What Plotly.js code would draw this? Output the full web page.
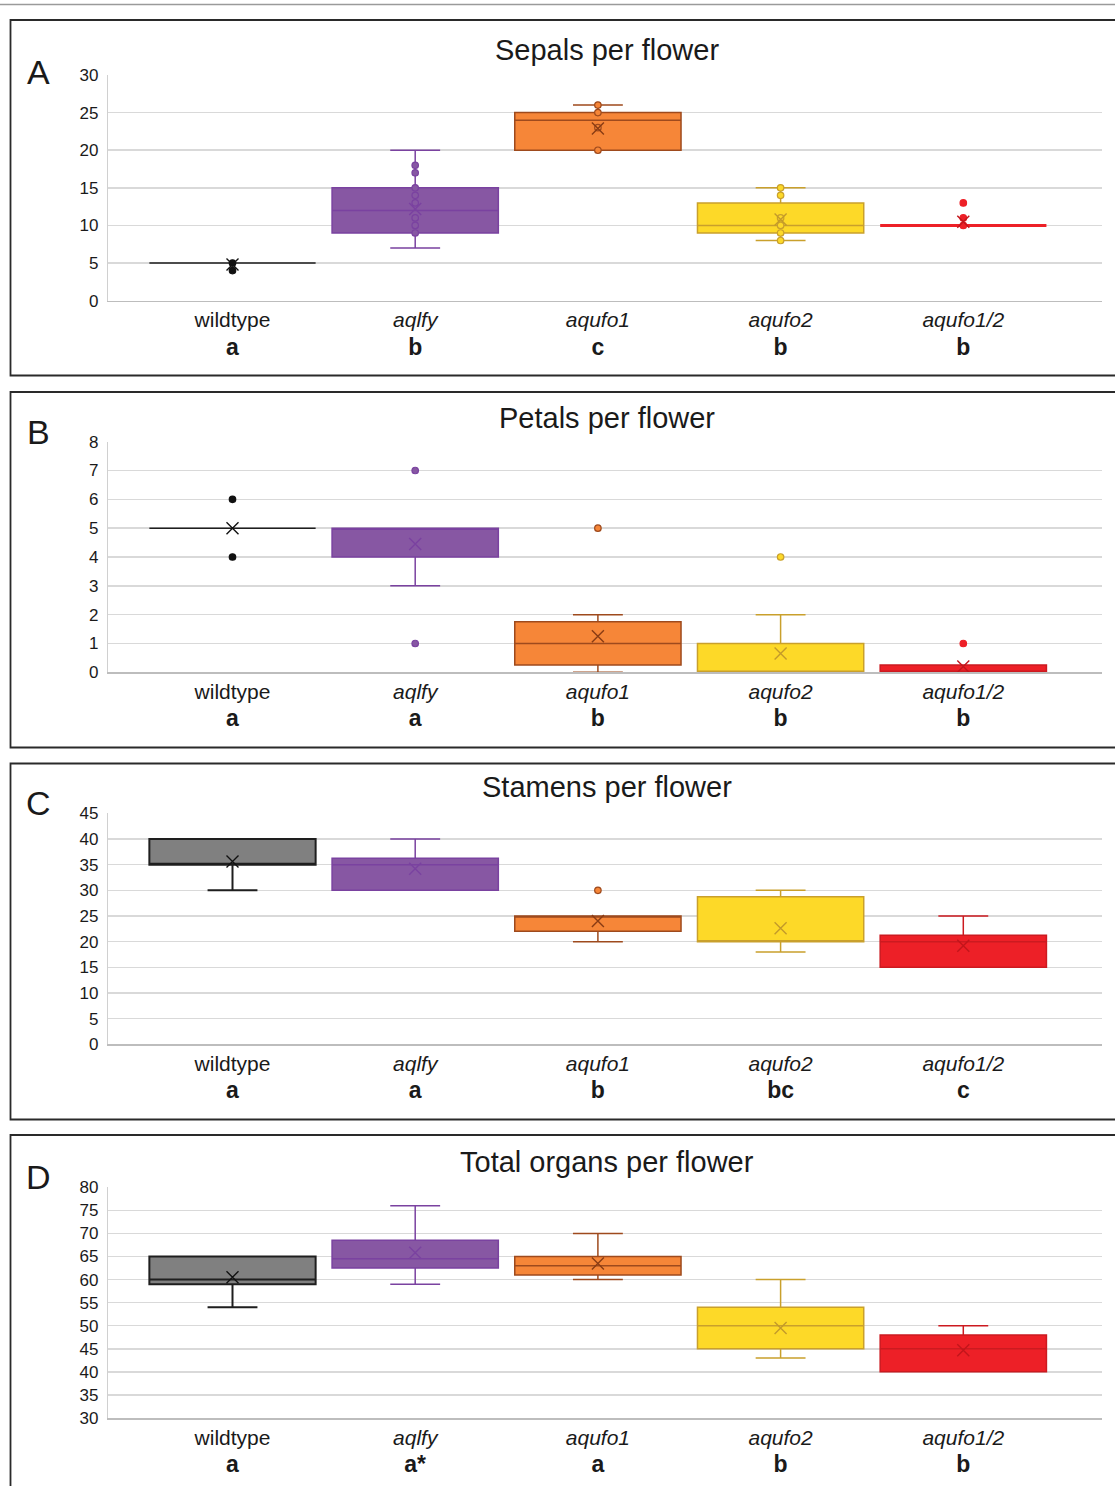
<!DOCTYPE html>
<html>
<head>
<meta charset="utf-8">
<script src="https://cdn.plot.ly/plotly-3.0.1.min.js"></script>
<style>html,body{margin:0;padding:0;background:#fff;}#chart{width:1115px;height:1486px;}</style>
</head>
<body>
<div id="chart"></div>
<script>
// ---------- DATA ----------
const categories = ['wildtype', 'aqlfy', 'aqufo1', 'aqufo2', 'aqufo1/2'];

const sepalTitle = 'Sepals per flower';
const sepalLetters = ['a', 'b', 'c', 'b', 'b'];
const sepalQ1 = [5, 9, 20, 9, 10];
const sepalMedian = [5, 12, 24, 10, 10];
const sepalQ3 = [5, 15, 25, 13, 10];
const sepalLow = [5, 7, 20, 8, 10];
const sepalHigh = [5, 20, 26, 15, 10];
const sepalMean = [4.8, 12.2, 22.9, 10.8, 10.5];
const sepalPoints = [[5, 4], [18, 17, 15, 14, 13, 11, 10, 9], [26, 25, 23, 20], [15, 14, 11, 10, 9, 8], [13, 11, 10]];

const petalTitle = 'Petals per flower';
const petalLetters = ['a', 'a', 'b', 'b', 'b'];
const petalQ1 = [5, 4, 0.25, 0, 0];
const petalMedian = [5, 5, 1, 0, 0];
const petalQ3 = [5, 5, 1.75, 1, 0.25];
const petalLow = [5, 3, 0, 0, 0];
const petalHigh = [5, 5, 2, 2, 0.25];
const petalMean = [5, 4.45, 1.25, 0.65, 0.2];
const petalPoints = [[6, 4], [7, 1], [5], [4], [1]];

const stamenTitle = 'Stamens per flower';
const stamenLetters = ['a', 'a', 'b', 'bc', 'c'];
const stamenQ1 = [35, 30, 22, 20, 15];
const stamenMedian = [35, 35, 25, 20, 20];
const stamenQ3 = [40, 36.25, 25, 28.75, 21.25];
const stamenLow = [30, 30, 20, 18, 15];
const stamenHigh = [40, 40, 25, 30, 25];
const stamenMean = [35.6, 34.2, 24, 22.6, 19.2];
const stamenPoints = [[], [], [30], [], []];

const totalTitle = 'Total organs per flower';
const totalLetters = ['a', 'a*', 'a', 'b', 'b'];
const totalQ1 = [59, 62.5, 61, 45, 40];
const totalMedian = [60, 64.5, 63, 50, 45];
const totalQ3 = [65, 68.5, 65, 54, 48];
const totalLow = [54, 59, 60, 43, 40];
const totalHigh = [65, 76, 70, 60, 50];
const totalMean = [60.5, 65.8, 63.5, 49.5, 44.7];
const totalPoints = [[], [], [], [], []];

const panelLabels = ['A', 'B', 'C', 'D'];
const yRanges = [[0, 30], [0, 8], [0, 45], [30, 80]];
const yDticks = [5, 1, 5, 5];

// ---------- STYLE ----------
const W = 1115, H = 1486;
const FONT = 'Liberation Sans, Arial, sans-serif';
const fillColors = ['#808080', '#8757a3', '#f68638', '#fdd928', '#ed2027'];
const lineColors = ['#1e1e1e', '#7a42a0', '#9e4a1d', '#c9a02c', '#cc1a20'];
const meanColors = ['#111111', '#7a42a0', '#8a3c14', '#c39a2a', '#c2151b'];
const pointFill = ['#111111', '#8757a3', '#f68638', '#fdd928', '#ed2027'];
const pointLine = ['#111111', '#7a42a0', '#9e4a1d', '#c9a02c', '#ed2027'];

const px = x => x / W;
const py = y => 1 - y / H;

// plot area pixel geometry per panel: [top, bottom]
const plotY = [[75, 300.7], [441.7, 672.3], [813.3, 1044.3], [1187.3, 1418]];
const plotX = [108.3, 1102];
const firstCenter = 232.5, spacing = 182.7;
const titleY = [50, 418, 787, 1162];
const letterY = [72, 432, 803, 1177];
const frames = [[20, 375.5], [392, 747.5], [763.5, 1119.5], [1135, 1500]];

const panels = [
  {title: sepalTitle, letters: sepalLetters, q1: sepalQ1, med: sepalMedian, q3: sepalQ3, lo: sepalLow, hi: sepalHigh, mean: sepalMean, pts: sepalPoints},
  {title: petalTitle, letters: petalLetters, q1: petalQ1, med: petalMedian, q3: petalQ3, lo: petalLow, hi: petalHigh, mean: petalMean, pts: petalPoints},
  {title: stamenTitle, letters: stamenLetters, q1: stamenQ1, med: stamenMedian, q3: stamenQ3, lo: stamenLow, hi: stamenHigh, mean: stamenMean, pts: stamenPoints},
  {title: totalTitle, letters: totalLetters, q1: totalQ1, med: totalMedian, q3: totalQ3, lo: totalLow, hi: totalHigh, mean: totalMean, pts: totalPoints}
];

const traces = [];
const layout = {
  width: W, height: H,
  margin: {l: 0, r: 0, t: 0, b: 0},
  paper_bgcolor: '#ffffff', plot_bgcolor: '#ffffff',
  showlegend: false,
  font: {family: FONT, color: '#222'},
  annotations: [], shapes: []
};

const catIdx = categories.map((c, i) => i);
const xRange = [(plotX[0] - firstCenter) / spacing, (plotX[1] - firstCenter) / spacing];

panels.forEach((p, k) => {
  const s = k === 0 ? '' : String(k + 1);
  const xa = 'x' + s, ya = 'y' + s;
  // boxes
  categories.forEach((c, i) => {
    const flat = p.q1[i] === p.q3[i];
    let lw = 1.5;
    if (flat) lw = (i === 4) ? 3 : 1.5;
    else if (i === 0) lw = 2;
    traces.push({
      type: 'box', x: [catIdx[i]],
      q1: [p.q1[i]], median: [p.med[i]], q3: [p.q3[i]],
      lowerfence: [p.lo[i]], upperfence: [p.hi[i]],
      width: 0.91, whiskerwidth: 0.3,
      fillcolor: flat ? lineColors[i] : fillColors[i],
      line: {color: (flat && i === 4) ? fillColors[i] : lineColors[i], width: lw},
      boxpoints: false, hoverinfo: 'skip', showlegend: false,
      xaxis: xa, yaxis: ya
    });
  });
  // individual points
  const ptsX = [], ptsY = [], ptsF = [], ptsL = [];
  p.pts.forEach((arr, i) => arr.forEach(v => { ptsX.push(catIdx[i]); ptsY.push(v); ptsF.push(pointFill[i]); ptsL.push(pointLine[i]); }));
  traces.push({
    type: 'scatter', mode: 'markers', x: ptsX, y: ptsY,
    marker: {symbol: 'circle', size: 6.5, color: ptsF, line: {color: ptsL, width: 1.2}},
    hoverinfo: 'skip', showlegend: false, xaxis: xa, yaxis: ya, cliponaxis: false
  });
  // means
  traces.push({
    type: 'scatter', mode: 'markers', x: catIdx, y: p.mean,
    marker: {symbol: 'x-thin-open', size: 12, color: meanColors, line: {color: meanColors, width: 1.4}},
    hoverinfo: 'skip', showlegend: false, xaxis: xa, yaxis: ya, cliponaxis: false
  });

  const ticktext = categories.map((c, i) =>
    (i === 0 ? c : '<i>' + c + '</i>') + '<br><b><span style="font-size:23px">' + p.letters[i] + '</span></b>');

  layout['xaxis' + s] = {
    domain: [px(plotX[0]), px(plotX[1])],
    range: xRange, anchor: ya,
    tickmode: 'array', tickvals: catIdx, ticktext: ticktext,
    tickfont: {family: FONT, size: 21, color: '#1a1a1a'},
    showgrid: false, zeroline: false, showline: true,
    linecolor: '#bdbdbd', linewidth: 1.5, ticks: '', fixedrange: true
  };
  layout['yaxis' + s] = {
    domain: [py(plotY[k][1]), py(plotY[k][0])],
    range: yRanges[k], dtick: yDticks[k], tick0: 0, anchor: xa,
    tickfont: {family: FONT, size: 17, color: '#1a1a1a'},
    showgrid: true, gridcolor: '#d9d9d9', gridwidth: 1.5,
    zeroline: false, showline: true, linecolor: '#d0d0d0', linewidth: 1.5,
    ticks: '', ticklabelstandoff: 5, fixedrange: true
  };

  layout.annotations.push({
    xref: 'paper', yref: 'paper', x: px(607), y: py(titleY[k]),
    xanchor: 'center', yanchor: 'middle', showarrow: false,
    text: p.title, font: {family: FONT, size: 29, color: '#1a1a1a'}
  });
  layout.annotations.push({
    xref: 'paper', yref: 'paper', x: px(38), y: py(letterY[k]),
    xanchor: 'center', yanchor: 'middle', showarrow: false,
    text: panelLabels[k], font: {family: FONT, size: 34, color: '#1a1a1a'}
  });
  layout.shapes.push({
    type: 'rect', xref: 'paper', yref: 'paper',
    x0: px(10.5), x1: 1.02, y0: py(frames[k][1]), y1: py(frames[k][0]),
    line: {color: '#2a2a2a', width: 1.8}, fillcolor: 'rgba(0,0,0,0)', layer: 'below'
  });
});

layout.shapes.push({
  type: 'line', xref: 'paper', yref: 'paper',
  x0: 0, x1: 1, y0: py(4.5), y1: py(4.5),
  line: {color: '#9a9a9a', width: 1.5}
});

Plotly.newPlot('chart', traces, layout, {displayModeBar: false, staticPlot: true});
</script>
</body>
</html>
